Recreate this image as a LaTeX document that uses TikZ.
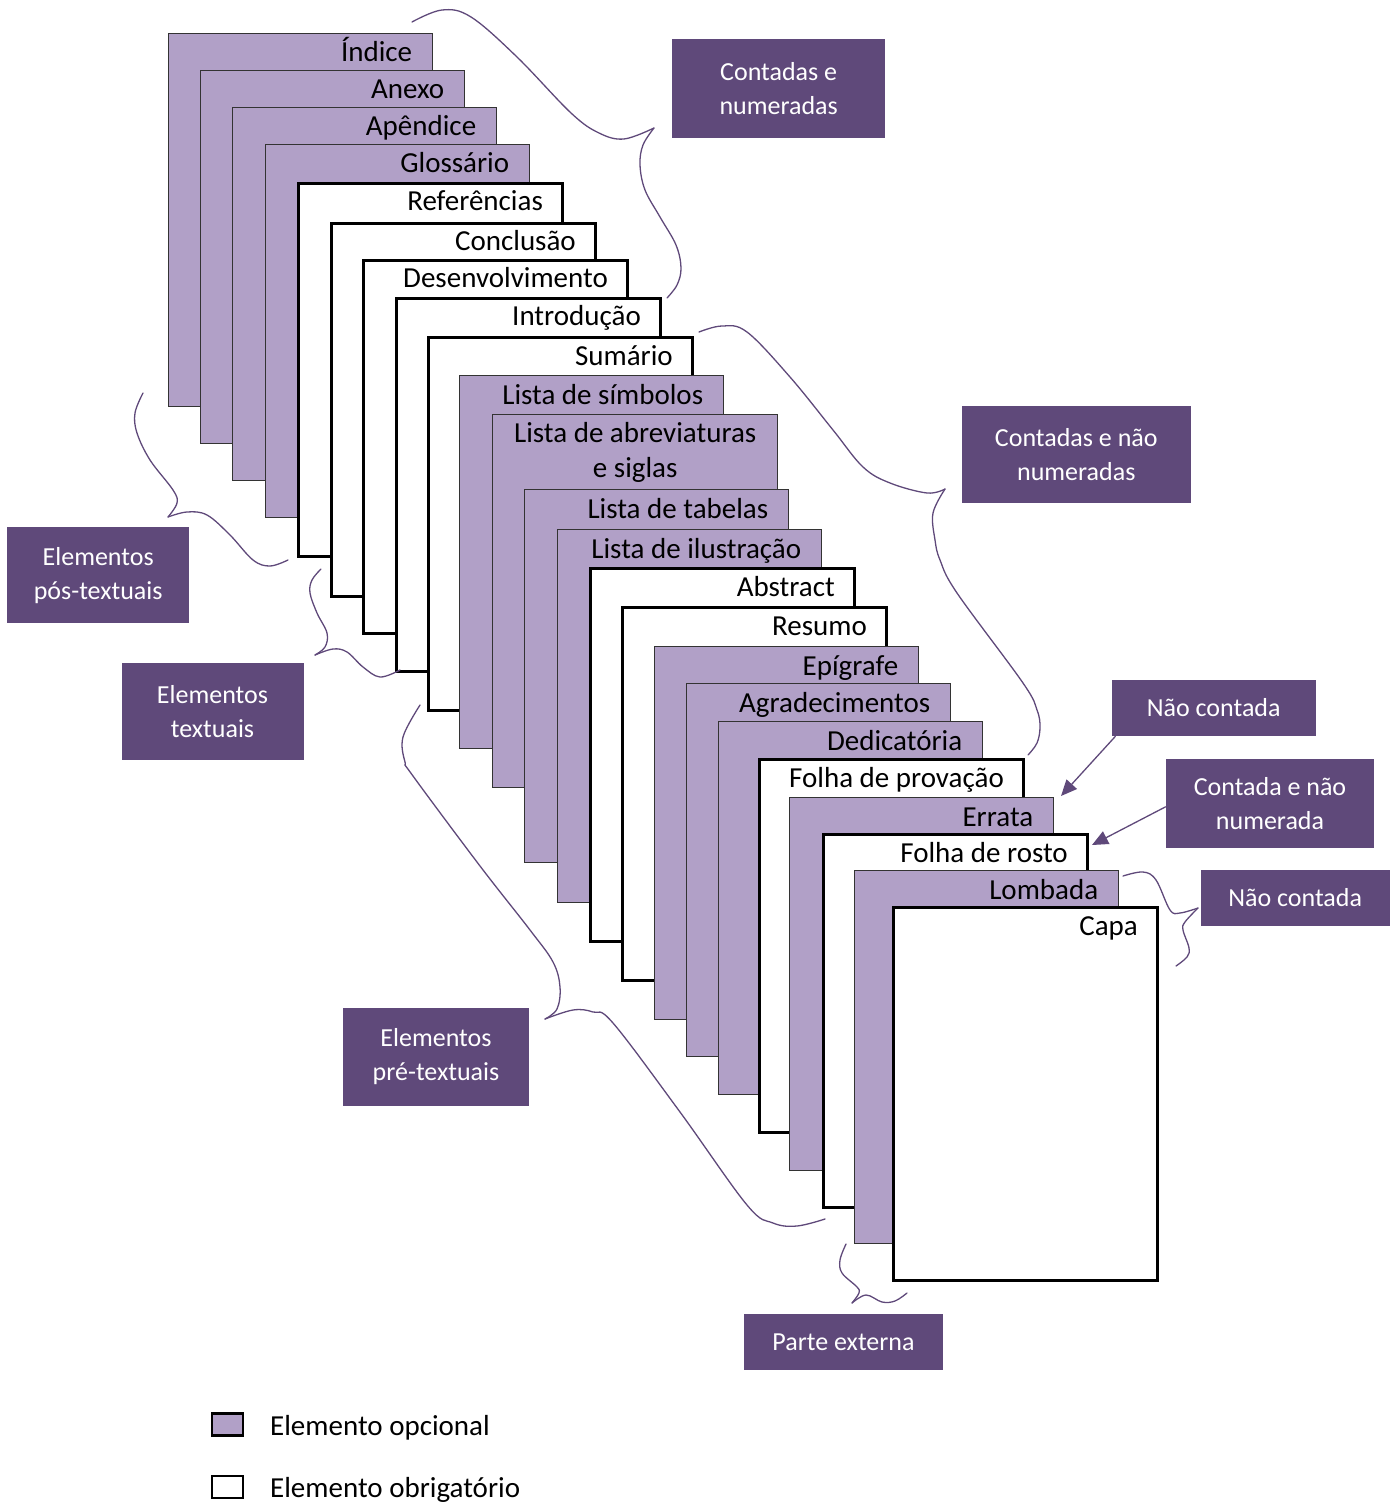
\documentclass[tikz,border=0pt]{standalone}
\usepackage{fontspec}
\setmainfont{Carlito}
\usepackage{xcolor}
\usepackage{tikz}
\usetikzlibrary{arrows.meta}
\definecolor{lilas}{HTML}{B1A0C7}
\definecolor{roxo}{HTML}{5F497A}

\begin{document}
\begin{tikzpicture}[x=1pt,y=-1pt]
    % Dimensoes das folhas
    \def\Altura{373pt}
    \def\Largura{264pt}
    % Estilos
    \tikzstyle{folha}=[inner sep=0pt,anchor=north west,minimum height=\Altura,minimum width=\Largura]
    \tikzstyle{opcional}=[folha,draw=black!80,line width=1.4pt,fill=lilas]
    \tikzstyle{obrigatoria}=[folha,draw=black,line width=3pt,fill=white]
    \tikzstyle{rotulo}=[anchor=base east,inner sep=0pt,font=\fontsize{29}{35}\selectfont]
    \tikzstyle{caixa}=[fill=roxo,text=white,align=center,inner sep=0pt,font=\fontsize{26}{34}\selectfont]
    \tikzstyle{chave}=[draw=roxo,line width=1.3pt,line cap=round]
    \tikzstyle{seta}=[draw=roxo,line width=1.3pt,-{Triangle[length=16pt,width=14pt]}]
    \tikzstyle{quadro}=[draw=black,line width=2.5pt,inner sep=0pt,minimum width=31pt,minimum height=22pt]
    \tikzstyle{legenda}=[anchor=base west,inner sep=0pt,font=\fontsize{29}{35}\selectfont]
    \useasboundingbox (0,0) rectangle (1395,1503);
    % Folhas (de tras para a frente)
    \node[opcional] (indice) at (168,33) {};
    \node[rotulo] (indice-r) at ([xshift=-21pt,yshift=-29pt]indice.north east) {Índice};
    \node[opcional] (anexo) at (200,70) {};
    \node[rotulo] (anexo-r) at ([xshift=-21pt,yshift=-29pt]anexo.north east) {Anexo};
    \node[opcional] (apendice) at (232,107) {};
    \node[rotulo] (apendice-r) at ([xshift=-21pt,yshift=-29pt]apendice.north east) {Apêndice};
    \node[opcional] (glossario) at (265,144) {};
    \node[rotulo] (glossario-r) at ([xshift=-21pt,yshift=-29pt]glossario.north east) {Glossário};
    \node[obrigatoria] (referencias) at (297,182) {};
    \node[rotulo] (referencias-r) at ([xshift=-21pt,yshift=-29pt]referencias.north east) {Referências};
    \node[obrigatoria] (conclusao) at (330,222) {};
    \node[rotulo] (conclusao-r) at ([xshift=-21pt,yshift=-29pt]conclusao.north east) {Conclusão};
    \node[obrigatoria] (desenvolvimento) at (362,259) {};
    \node[rotulo] (desenvolvimento-r) at ([xshift=-21pt,yshift=-29pt]desenvolvimento.north east) {Desenvolvimento};
    \node[obrigatoria] (introducao) at (395,297) {};
    \node[rotulo] (introducao-r) at ([xshift=-21pt,yshift=-29pt]introducao.north east) {Introdução};
    \node[obrigatoria] (sumario) at (427,336) {};
    \node[rotulo] (sumario-r) at ([xshift=-21pt,yshift=-29pt]sumario.north east) {Sumário};
    \node[opcional] (simbolos) at (459,375) {};
    \node[rotulo] (simbolos-r) at ([xshift=-21pt,yshift=-29pt]simbolos.north east) {Lista de símbolos};
    \node[opcional,minimum width=285pt] (abreviaturas) at (492,414) {};
    \node[rotulo,anchor=base,align=center] (abreviaturas-r) at ([yshift=-63pt]abreviaturas.north) {Lista de abreviaturas\\e siglas};
    \node[opcional] (tabelas) at (524,489) {};
    \node[rotulo] (tabelas-r) at ([xshift=-21pt,yshift=-29pt]tabelas.north east) {Lista de tabelas};
    \node[opcional] (ilustracao) at (557,529) {};
    \node[rotulo] (ilustracao-r) at ([xshift=-21pt,yshift=-29pt]ilustracao.north east) {Lista de ilustração};
    \node[obrigatoria] (abstract) at (589,567) {};
    \node[rotulo] (abstract-r) at ([xshift=-21pt,yshift=-29pt]abstract.north east) {Abstract};
    \node[obrigatoria] (resumo) at (621,606) {};
    \node[rotulo] (resumo-r) at ([xshift=-21pt,yshift=-29pt]resumo.north east) {Resumo};
    \node[opcional] (epigrafe) at (654,646) {};
    \node[rotulo] (epigrafe-r) at ([xshift=-21pt,yshift=-29pt]epigrafe.north east) {Epígrafe};
    \node[opcional] (agradecimentos) at (686,683) {};
    \node[rotulo] (agradecimentos-r) at ([xshift=-21pt,yshift=-29pt]agradecimentos.north east) {Agradecimentos};
    \node[opcional] (dedicatoria) at (718,721) {};
    \node[rotulo] (dedicatoria-r) at ([xshift=-21pt,yshift=-29pt]dedicatoria.north east) {Dedicatória};
    \node[obrigatoria] (aprovacao) at (758,758) {};
    \node[rotulo] (aprovacao-r) at ([xshift=-21pt,yshift=-29pt]aprovacao.north east) {Folha de provação};
    \node[opcional] (errata) at (789,797) {};
    \node[rotulo] (errata-r) at ([xshift=-21pt,yshift=-29pt]errata.north east) {Errata};
    \node[obrigatoria] (rosto) at (822,833) {};
    \node[rotulo] (rosto-r) at ([xshift=-21pt,yshift=-29pt]rosto.north east) {Folha de rosto};
    \node[opcional] (lombada) at (854,870) {};
    \node[rotulo] (lombada-r) at ([xshift=-21pt,yshift=-29pt]lombada.north east) {Lombada};
    \node[obrigatoria] (capa) at (892,906) {};
    \node[rotulo] (capa-r) at ([xshift=-21pt,yshift=-29pt]capa.north east) {Capa};
    % Caixas
    \node[caixa,minimum width=213pt,minimum height=99pt] (cn) at (778.7,88.3) {Contadas e\\numeradas};
    \node[caixa,minimum width=229pt,minimum height=97pt] (cnn) at (1076.3,454.3) {Contadas e não\\numeradas};
    \node[caixa,minimum width=182pt,minimum height=96pt] (pos) at (98.2,575.3) {Elementos\\pós-textuais};
    \node[caixa,minimum width=182pt,minimum height=97pt] (textuais) at (212.5,711.3) {Elementos\\textuais};
    \node[caixa,minimum width=186pt,minimum height=98pt] (pre) at (436,1056.8) {Elementos\\pré-textuais};
    \node[caixa,minimum width=204pt,minimum height=56pt] (nc1) at (1213.7,708) {Não contada};
    \node[caixa,minimum width=208pt,minimum height=89pt] (cenn) at (1270,803.7) {Contada e não\\numerada};
    \node[caixa,minimum width=189pt,minimum height=56pt] (nc2) at (1295.1,897.5) {Não contada};
    \node[caixa,minimum width=199pt,minimum height=56pt] (externa) at (843.5,1342) {Parte externa};
    % Chaves
    \draw[chave] plot[smooth,tension=0.6] coordinates {(412,22) (442,10) (471,17) (517,57) (571,113) (599,133) (624,139) (654,128)};
    \draw[chave] plot[smooth,tension=0.6] coordinates {(654,128) (643,145) (640,165) (645,190) (660,217) (676,245) (681,268) (677,285) (667,298)};
    \draw[chave] plot[smooth,tension=0.6] coordinates {(699,332) (722,326) (747,332) (790,377) (833,430) (863,467) (890,483) (927,493) (945,489)};
    \draw[chave] plot[smooth,tension=0.6] coordinates {(945,489) (933,513) (935,540) (940,560) (957,593) (1023,683) (1037,710) (1040,727) (1037,743) (1028,755)};
    \draw[chave] plot[smooth,tension=0.6] coordinates {(143,393) (135,413) (137,433) (150,460) (173,490) (177,503) (168,517)};
    \draw[chave] plot[smooth,tension=0.6] coordinates {(168,517) (187,512) (207,515) (230,535) (253,560) (270,566) (288,560)};
    \draw[chave] plot[smooth,tension=0.6] coordinates {(321,569) (312,580) (310,593) (317,613) (327,633) (325,647) (315,655)};
    \draw[chave] plot[smooth,tension=0.6] coordinates {(315,655) (333,649) (347,652) (363,667) (380,677) (400,670)};
    \draw[chave] plot[smooth,tension=0.6] coordinates {(420,705) (403,737) (405,762) (413,776) (480,866) (530,930) (553,962) (560,987) (557,1009) (545,1019)};
    \draw[chave] plot[smooth,tension=0.6] coordinates {(545,1019) (573,1010) (593,1012) (613,1023) (680,1112) (747,1205) (773,1223) (797,1226) (825,1219)};
    \draw[chave] plot[smooth,tension=0.6] coordinates {(1123,876) (1143,872) (1156,880) (1170,910) (1180,913) (1198,908)};
    \draw[chave] plot[smooth,tension=0.6] coordinates {(1198,908) (1185,922) (1183,930) (1189,948) (1187,957) (1176,966)};
    \draw[chave] plot[smooth,tension=0.6] coordinates {(846,1244) (840,1260) (842,1273) (857,1287) (859,1293) (852,1303)};
    \draw[chave] plot[smooth,tension=0.6] coordinates {(852,1303) (866,1295) (882,1302) (895,1301) (907,1293)};
    % Setas
    \coordinate (alvo1) at (1061,796);
    \coordinate (alvo2) at (1092,845);
    \draw[seta] ([xshift=4pt]nc1.south west) -- (alvo1);
    \draw[seta] ([yshift=-3pt]cenn.west) -- (alvo2);
    % Legenda
    \node[quadro,fill=lilas] (qopcional) at (227.5,1424.7) {};
    \node[legenda] (topcional) at (270,1435) {Elemento opcional};
    \node[quadro,fill=white] (qobrigatorio) at (227.5,1487.2) {};
    \node[legenda] (tobrigatorio) at (270,1497) {Elemento obrigatório};
\end{tikzpicture}
\end{document}
